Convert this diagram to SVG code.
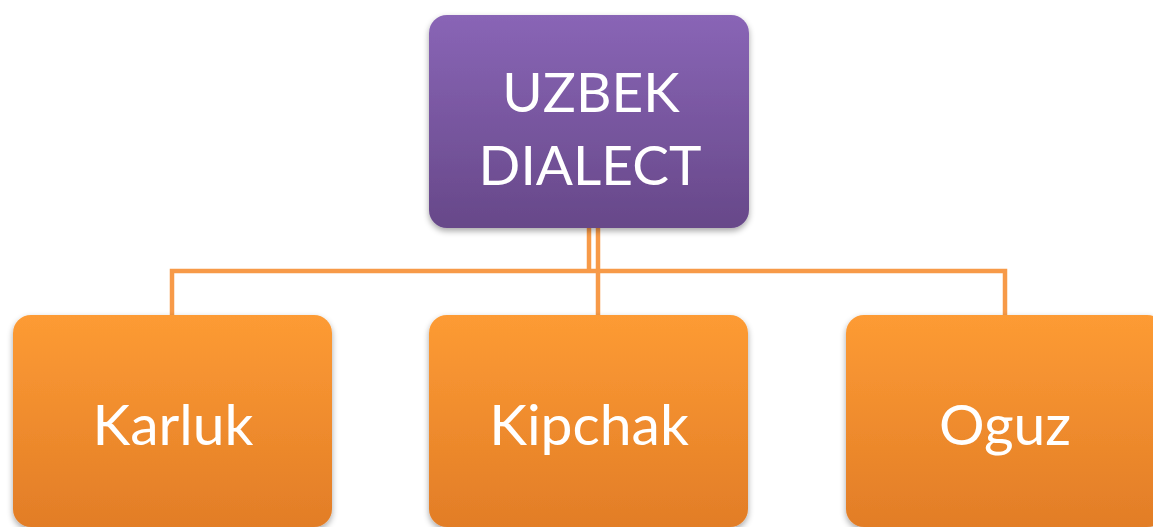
<svg xmlns="http://www.w3.org/2000/svg" width="1153" height="527" viewBox="0 0 1153 527">
<style>
.lbl{font-family:Lato,"Open Sans","Liberation Sans",sans-serif;font-size:57px;fill:#ffffff;text-anchor:middle}
.cap{font-size:55px}
.conn{stroke:#f79a48;stroke-width:4.5;fill:none}
</style>
<defs>
<linearGradient id="gp" x1="0" y1="0" x2="0" y2="1">
<stop offset="0" stop-color="#8965b6"/>
<stop offset="1" stop-color="#674889"/>
</linearGradient>
<linearGradient id="go" x1="0" y1="0" x2="0" y2="1">
<stop offset="0" stop-color="#fd9b34"/>
<stop offset="1" stop-color="#e27d27"/>
</linearGradient>
<filter id="sh" x="-10%" y="-10%" width="120%" height="125%">
<feGaussianBlur in="SourceAlpha" stdDeviation="3"/>
<feOffset dx="0" dy="3"/>
<feComponentTransfer><feFuncA type="linear" slope="0.35"/></feComponentTransfer>
<feMerge><feMergeNode/><feMergeNode in="SourceGraphic"/></feMerge>
</filter>
</defs>
<rect width="1153" height="527" fill="#ffffff"/>
<g id="connectors">
<path class="conn" d="M589 228 V271"/>
<path class="conn" d="M598 228 V316"/>
<path class="conn" d="M172 316 V271 H1005 V316"/>
</g>
<g id="uzbek">
<rect x="429" y="15" width="320" height="213" rx="18" fill="url(#gp)" filter="url(#sh)"/>
<text class="lbl cap" x="591" y="112">UZBEK</text>
<text class="lbl cap" x="590" y="185">DIALECT</text>
</g>
<g id="karluk">
<rect x="13" y="315" width="319" height="212" rx="18" fill="url(#go)" filter="url(#sh)"/>
<text class="lbl" x="173" y="445">Karluk</text>
</g>
<g id="kipchak">
<rect x="429" y="315" width="319" height="212" rx="18" fill="url(#go)" filter="url(#sh)"/>
<text class="lbl" x="589" y="445">Kipchak</text>
</g>
<g id="oguz">
<rect x="846" y="315" width="319" height="212" rx="18" fill="url(#go)" filter="url(#sh)"/>
<text class="lbl" x="1005" y="445">Oguz</text>
</g>
</svg>
